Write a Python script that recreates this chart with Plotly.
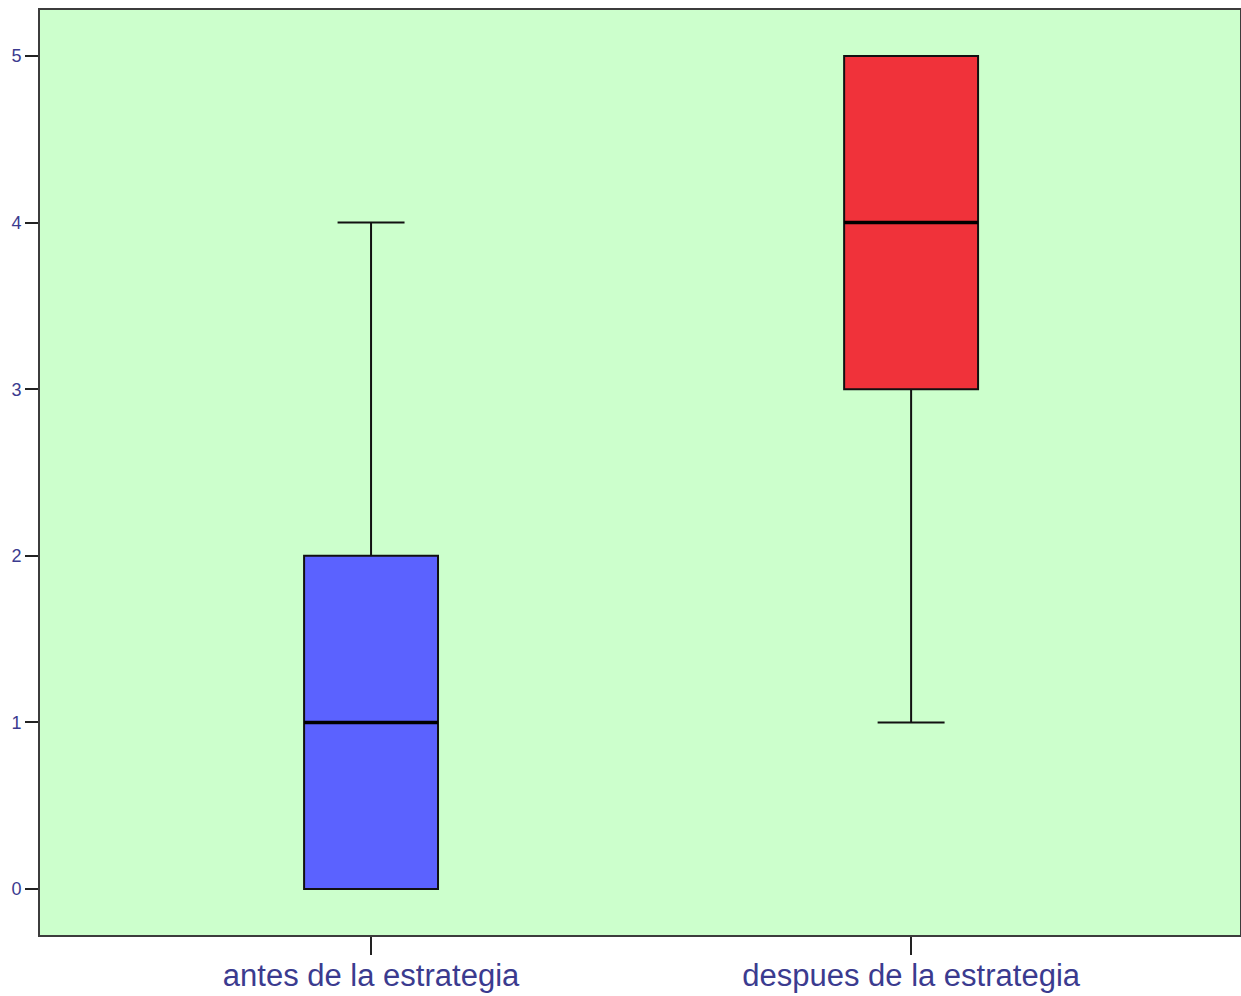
import plotly.graph_objects as go

# Five-number summaries for each group
groups = ["antes de la estrategia", "despues de la estrategia"]
lower_fence = [0, 1]
q1 = [0, 3]
median = [1, 4]
q3 = [2, 5]
upper_fence = [4, 5]
fill_colors = ["#5B62FF", "#F0323A"]

y_ticks = [0, 1, 2, 3, 4, 5]

box_width = 0.248
positions = list(range(len(groups)))

fig = go.Figure()
for i, name in enumerate(groups):
    fig.add_trace(go.Box(
        x=[positions[i]],
        q1=[q1[i]], median=[median[i]], q3=[q3[i]],
        lowerfence=[lower_fence[i]], upperfence=[upper_fence[i]],
        width=box_width, whiskerwidth=0.5,
        fillcolor=fill_colors[i],
        line=dict(color="#111111", width=2),
        boxpoints=False, showlegend=False, hoverinfo="skip",
    ))
    # heavier median bar
    fig.add_trace(go.Scatter(
        x=[positions[i] - box_width / 2, positions[i] + box_width / 2],
        y=[median[i], median[i]],
        mode="lines", line=dict(color="#000000", width=3.5),
        showlegend=False, hoverinfo="skip",
    ))

axis_line = dict(showline=True, linecolor="#3C3C3C", linewidth=2, mirror=True,
                 showgrid=False, zeroline=False, ticks="outside",
                 tickcolor="#222222", tickwidth=2, automargin=False)

fig.update_layout(
    width=1241, height=996,
    margin=dict(l=40, r=1, t=10, b=61),
    paper_bgcolor="white", plot_bgcolor="#CCFFCC",
    font=dict(family="Liberation Sans, Arial, sans-serif", color="#3B3B8F"),
    xaxis=dict(range=[-0.613, 1.609], tickvals=positions, ticktext=groups,
               ticklen=18, ticklabelstandoff=-6,
               tickfont=dict(size=31, color="#3B3B8F"), **axis_line),
    yaxis=dict(range=[-0.276, 5.276], tickvals=y_ticks,
               ticklen=13, tickfont=dict(size=18, color="#3B3B8F"), **axis_line),
)

fig.write_html("out.html")
